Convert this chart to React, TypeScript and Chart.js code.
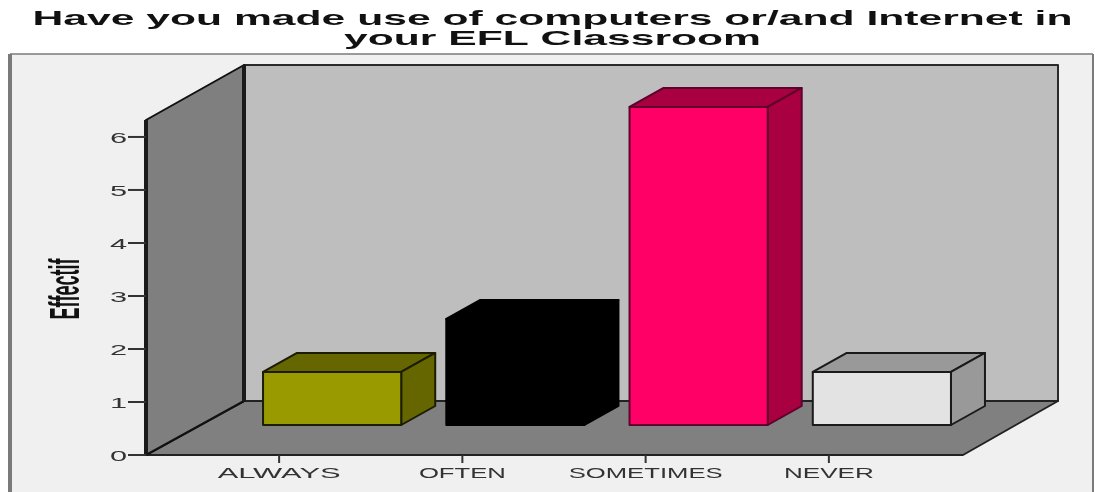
import React, { useEffect, useRef } from "react";
import { Chart, registerables } from "chart.js";

Chart.register(...registerables);

const titleLines = ["Have you made use of computers or/and Internet in", "your EFL Classroom"];
const axisTitle = "Effectif";
const categories = ["ALWAYS", "OFTEN", "SOMETIMES", "NEVER"];
const counts = [1, 2, 6, 1];
const frontColors = ["#999900", "#000000", "#ff0066", "#e3e3e3"];
const shadeColors = ["#666600", "#000000", "#a80040", "#999999"];
const edgeColors = ["#1c1c00", "#000000", "#60002c", "#1a1a1a"];
const categoryLabelWidths = [123, 87, 154, 90];

const FONT = '"Liberation Sans", Arial, sans-serif';
const TITLE_STRETCH = 2.03;
const VALUE_STRETCH = 2.05;

// Oblique projection of the box: floor depth, bar inset and bar depth in px.
const WALL_X = 146;
const WALL_DX = 98;
const WALL_DY = 54;
const WALL_TOP = 65;
const FLOOR_RIGHT = 963;
const BAR_DX = 53;
const BAR_DY = 30;
const DEPTH_DX = 34;
const DEPTH_DY = 19;

function poly(ctx: CanvasRenderingContext2D, pts: number[][], fill: string | null, stroke: string | null, lw = 2) {
  ctx.beginPath();
  pts.forEach((p, i) => (i ? ctx.lineTo(p[0], p[1]) : ctx.moveTo(p[0], p[1])));
  ctx.closePath();
  if (fill) {
    ctx.fillStyle = fill;
    ctx.fill();
  }
  if (stroke) {
    ctx.strokeStyle = stroke;
    ctx.lineWidth = lw;
    ctx.lineJoin = "round";
    ctx.stroke();
  }
}

// Horizontally widened label, centred on x with its baseline at y.
function wideText(ctx: CanvasRenderingContext2D, text: string, x: number, y: number, font: string, color: string, stretch: number) {
  ctx.save();
  ctx.translate(x, y);
  ctx.scale(stretch, 1);
  ctx.font = font;
  ctx.fillStyle = color;
  ctx.textAlign = "center";
  ctx.textBaseline = "alphabetic";
  ctx.fillText(text, 0, 0);
  ctx.restore();
}

const box3d = {
  id: "box3d",
  beforeDraw(chart: any) {
    const { ctx, chartArea, scales } = chart;
    const y0 = scales.y.getPixelForValue(0);
    const top = chartArea.top;
    const backX = WALL_X + WALL_DX;
    const backY = y0 - WALL_DY;
    const backRight = FLOOR_RIGHT + 95;

    ctx.save();
    ctx.fillStyle = "#ffffff";
    ctx.fillRect(0, 0, chart.width, chart.height);
    ctx.fillStyle = "#f0f0f0";
    ctx.fillRect(10, 54, 1083, chart.height - 54);
    ctx.strokeStyle = "#7a7a7a";
    ctx.lineWidth = 1.5;
    ctx.beginPath();
    ctx.moveTo(1093, 54);
    ctx.lineTo(10, 54);
    ctx.stroke();
    ctx.lineWidth = 4;
    ctx.beginPath();
    ctx.moveTo(10, 54);
    ctx.lineTo(10, chart.height);
    ctx.stroke();
    ctx.lineWidth = 2;
    ctx.beginPath();
    ctx.moveTo(1093, 54);
    ctx.lineTo(1093, chart.height);
    ctx.stroke();

    // Back wall, floor and side wall
    poly(ctx, [[backX, WALL_TOP], [backRight, WALL_TOP], [backRight, backY], [backX, backY]], "#bebebe", "#2a2a2a", 2);
    poly(ctx, [[WALL_X, y0], [backX, backY], [backRight, backY], [FLOOR_RIGHT, y0]], "#808080", "#222222", 2);
    poly(ctx, [[WALL_X, top], [backX, WALL_TOP], [backX, backY], [WALL_X, y0]], "#7f7f7f", "#111111", 2);
    ctx.strokeStyle = "#1a1a1a";
    ctx.lineWidth = 4;
    ctx.beginPath();
    ctx.moveTo(WALL_X, top);
    ctx.lineTo(WALL_X, y0 + 1);
    ctx.moveTo(backX, WALL_TOP);
    ctx.lineTo(backX, backY);
    ctx.stroke();
    ctx.restore();
  },
  beforeDatasetDraw(chart: any, args: any) {
    const { ctx } = chart;
    ctx.save();
    ctx.translate(BAR_DX, -BAR_DY);
    args.meta.data.forEach((bar: any, i: number) => {
      const l = bar.x - bar.width / 2;
      const r = bar.x + bar.width / 2;
      const t = bar.y;
      const b = bar.base;
      const edge = edgeColors[i];
      poly(ctx, [[l, t], [l + DEPTH_DX, t - DEPTH_DY], [r + DEPTH_DX, t - DEPTH_DY], [r, t]], shadeColors[i], edge, 2);
      poly(ctx, [[r, t], [r + DEPTH_DX, t - DEPTH_DY], [r + DEPTH_DX, b - DEPTH_DY], [r, b]], shadeColors[i], edge, 2);
    });
  },
  afterDatasetDraw(chart: any, args: any) {
    const { ctx } = chart;
    // Outline of each front face, on top of the bar fill
    args.meta.data.forEach((bar: any, i: number) => {
      const l = bar.x - bar.width / 2;
      const r = bar.x + bar.width / 2;
      poly(ctx, [[l, bar.y], [r, bar.y], [r, bar.base], [l, bar.base]], null, edgeColors[i], 2);
    });
    ctx.restore();
  },
  afterDraw(chart: any) {
    const { ctx, scales } = chart;
    const { x, y } = scales;
    const y0 = y.getPixelForValue(0);

    titleLines.forEach((line, i) => {
      wideText(ctx, line, 552.5, i === 0 ? 25 : 45, `bold 21px ${FONT}`, "#111111", TITLE_STRETCH);
    });

    ctx.save();
    ctx.strokeStyle = "#333333";
    ctx.lineWidth = 2;
    y.ticks.forEach((tick: any) => {
      const py = y.getPixelForValue(tick.value);
      ctx.beginPath();
      ctx.moveTo(128, py);
      ctx.lineTo(WALL_X, py);
      ctx.stroke();
      wideText(ctx, String(tick.value), 118.5, py + 6, `15px ${FONT}`, "#333333", VALUE_STRETCH);
    });
    categories.forEach((label, i) => {
      const px = x.getPixelForValue(i);
      ctx.beginPath();
      ctx.moveTo(px, y0);
      ctx.lineTo(px, y0 + 8);
      ctx.stroke();
      ctx.font = `15px ${FONT}`;
      const natural = ctx.measureText(label).width;
      wideText(ctx, label, px, 477.5, `15px ${FONT}`, "#333333", categoryLabelWidths[i] / natural);
    });

    // Rotated axis title, widened across its cap height
    ctx.translate(67, 289);
    ctx.rotate(-Math.PI / 2);
    ctx.scale(1, 2.4);
    ctx.font = `bold 18px ${FONT}`;
    ctx.fillStyle = "#111111";
    ctx.textAlign = "center";
    ctx.textBaseline = "middle";
    ctx.fillText(axisTitle, 0, 0);
    ctx.restore();
  },
};

export default function App() {
  const ref = useRef<HTMLCanvasElement>(null);
  useEffect(() => {
    if (!ref.current) return;
    const chart = new Chart(ref.current, {
      type: "bar",
      plugins: [box3d],
      data: {
        labels: categories,
        datasets: [
          {
            label: axisTitle,
            data: counts,
            backgroundColor: frontColors,
            borderWidth: 0,
            barPercentage: 0.754,
            categoryPercentage: 1,
            clip: false,
          },
        ],
      },
      options: {
        animation: false,
        responsive: false,
        events: [],
        layout: { padding: { top: 120, right: 174.5, left: 0, bottom: 0 } },
        plugins: { legend: { display: false }, title: { display: false }, tooltip: { enabled: false } },
        scales: {
          x: {
            grid: { display: false },
            border: { display: false },
            ticks: { display: false },
            afterFit: (s: any) => { s.height = 37; },
          },
          y: {
            min: 0,
            max: 6.32,
            grid: { display: false },
            border: { display: false },
            ticks: { display: false, stepSize: 1 },
            // The wall runs a little past 6; only whole counts are labelled.
            afterBuildTicks: (s: any) => { s.ticks = s.ticks.filter((t: any) => Number.isInteger(t.value)); },
            afterFit: (s: any) => { s.width = 187.5; },
          },
        },
      },
    } as any);
    return () => chart.destroy();
  }, []);
  return (
    <div style={{ position: "absolute", left: 0, top: 0, width: 1095, height: 492, overflow: "hidden" }}>
      <canvas ref={ref} width={1095} height={492} style={{ display: "block" }} />
    </div>
  );
}
